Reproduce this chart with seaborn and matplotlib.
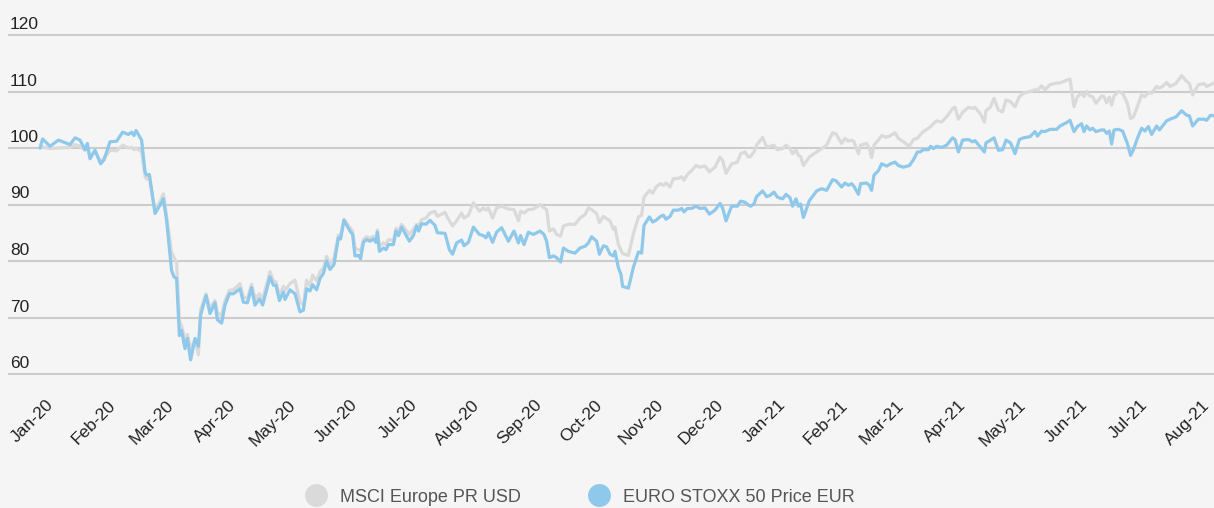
import numpy as np
import pandas as pd
import matplotlib
matplotlib.use("Agg")
import matplotlib.pyplot as plt
import matplotlib.transforms as mtransforms
from matplotlib.lines import Line2D
import seaborn as sns

# ---------------- data ----------------
start_date = "2020-01-01"

days = [
    0, 1.3, 5.0, 9.2, 15.0, 17.5, 20.0, 22.5, 23.7, 25.0, 27.5, 30.3, 32.0, 35.0, 38.3,
    41.3, 44.2, 45.8, 47.0, 48.0, 50.8, 52.5, 53.3, 54.7, 57.5, 60.0, 61.7, 63.3, 65.8,
    67.0, 68.3, 69.7, 70.8, 72.5, 73.7, 75.3, 77.5, 79.2, 80.3, 83.0, 85.0, 87.5, 88.7,
    90.8, 92.5, 94.7, 96.7, 100.0, 101.7, 103.7, 105.8, 107.5, 109.7, 111.3, 115.0,
    116.7, 118.0, 119.7, 121.7, 122.5, 125.0, 127.5, 130.0, 131.7, 133.3, 135.0, 136.3,
    138.3, 140.0, 141.7,
    143.3, 145.0, 147.0, 149.2, 150.3, 152.0, 155.0, 156.3, 157.5, 159.2, 160.3, 161.7,
    163.3, 165.0, 166.7, 168.0, 168.7, 169.7, 171.7, 173.0, 174.2, 176.7, 178.0, 179.3,
    180.8, 184.7, 186.7, 188.3, 189.3, 190.8, 193.0, 195.0, 197.5, 198.7, 202.5, 204.7,
    206.3, 208.3, 210.8, 212.0, 214.2, 216.7, 219.7, 221.7, 223.0, 224.2, 226.3, 228.3,
    230.8, 234.2, 237.0, 239.2, 240.3, 242.0, 244.2, 246.7, 250.0, 252.0, 253.3, 254.7,
    256.7, 258.3, 260.3, 261.7, 264.2, 267.5, 270.0, 272.5, 274.2, 275.8, 278.3, 279.7,
    281.7, 283.3, 285.0, 286.7, 287.5, 289.2, 290.5,
    291.3, 294.2, 296.7, 299.2, 300.8, 302.0, 304.7, 306.3, 308.0, 310.3, 311.7, 313.0,
    315.0, 316.7, 319.2, 320.8, 322.0, 323.7, 325.8, 328.0, 330.0, 332.5, 334.7, 337.5,
    340.0, 341.3, 343.0, 345.8, 348.7, 350.3, 352.5, 354.2, 355.3, 357.0, 358.3, 361.3,
    363.3, 365.0, 367.0, 368.7, 371.3, 373.0, 375.0, 376.3, 378.0, 379.2, 380.3, 381.7,
    384.7, 385.8, 388.3, 390.8, 393.3, 396.3, 398.0, 400.8, 402.5, 404.2, 405.8, 407.0,
    409.2, 410.3, 413.3, 414.7, 415.8, 417.0, 419.2, 420.8, 423.3, 425.3, 427.5, 429.2,
    431.7, 434.7, 436.7, 438.7,
    440.0, 441.7, 444.2, 445.3, 446.7, 448.3, 450.8, 453.3, 456.3, 457.5, 459.2, 461.3,
    464.2, 466.3, 467.5, 470.3, 472.2, 473.0, 475.3, 477.0, 479.2, 481.3, 483.0, 485.3,
    487.5, 489.7, 491.7, 495.0, 497.5, 498.7, 500.8, 502.5, 505.0, 508.3, 510.0, 513.3,
    515.0, 517.0, 518.7, 520.8, 522.0, 523.3, 525.0, 526.3, 528.0, 530.8, 532.0, 533.3,
    534.7, 535.8, 537.0, 539.2, 541.3, 543.7, 545.3, 546.7, 548.7, 550.8, 552.5, 554.2,
    555.8, 558.3, 559.7, 561.3, 563.3, 565.0, 568.0, 570.8, 573.3, 574.7, 576.3, 579.2,
    582.0, 583.3, 585.3, 587.0,
]

euro_stoxx_50 = [
    100.0, 101.6, 100.3, 101.4, 100.6, 101.8, 101.4, 99.7, 100.8, 98.1, 99.6, 97.2, 97.9, 101.1, 101.2,
    102.8, 102.4, 102.8, 102.2, 103.1, 101.4, 95.8, 95.2, 95.3, 88.4, 89.9, 91.0, 87.2, 78.3,
    77.2, 76.9, 66.8, 67.7, 64.5, 66.3, 62.5, 66.3, 64.9, 70.4, 73.9, 70.7, 72.6, 69.6,
    69.0, 72.2, 74.2, 74.2, 75.1, 72.7, 72.6, 75.3, 72.2, 73.3, 72.2, 77.2,
    75.7, 75.7, 73.0, 74.5, 73.2, 74.9, 74.2, 71.0, 71.3, 75.1, 74.7, 75.8,
    74.9, 76.9, 77.8,
    80.0, 78.5, 79.4, 84.1, 83.9, 87.2, 85.3, 84.7, 80.9, 81.0, 80.4, 83.3,
    83.8, 83.5, 83.9, 83.3, 85.1, 81.7, 82.3, 82.0, 82.9, 82.9, 85.3, 84.5,
    86.0, 83.5, 84.5, 86.2, 85.3, 86.6, 86.5, 87.2, 86.3, 85.0, 84.9, 82.0,
    81.2, 83.2, 83.7, 82.7, 83.3, 86.0, 84.7, 84.5, 84.1, 85.0, 83.3, 85.1,
    85.9, 83.5, 85.3, 83.2, 84.5, 82.9, 85.1, 84.7, 85.3, 84.7, 83.5, 80.6,
    80.9, 80.6, 79.8, 82.3, 81.7, 81.4, 82.3, 82.6, 83.2, 84.3, 83.5, 81.2,
    82.7, 82.5, 81.2, 80.9, 81.7, 78.8, 77.6,
    75.5, 75.2, 78.9, 81.6, 81.4, 86.3, 87.8, 86.9, 87.2, 87.9, 88.1, 87.4,
    87.9, 89.0, 89.0, 89.3, 88.7, 89.3, 89.3, 89.7, 89.3, 89.4, 88.3, 89.0,
    90.2, 89.4, 87.1, 89.7, 89.7, 90.6, 90.4, 89.9, 89.7, 90.1, 91.4, 92.4,
    91.4, 91.6, 92.2, 91.3, 91.0, 91.8, 91.2, 89.7, 91.0, 89.7, 90.1, 87.7,
    90.7, 91.2, 92.4, 92.8, 92.5, 94.4, 94.2, 93.1, 93.8, 93.4, 93.7, 93.2,
    91.8, 93.7, 93.8, 93.4, 92.5, 95.2, 96.0, 97.2, 96.8, 97.2, 97.5, 96.9,
    96.6, 96.9, 97.9, 99.3,
    99.3, 99.7, 99.7, 100.3, 99.9, 100.3, 100.1, 100.5, 101.8, 101.5, 99.3, 101.4,
    101.5, 101.1, 101.3, 100.1, 99.3, 100.9, 101.4, 101.8, 99.6, 99.7, 101.4, 100.9,
    99.0, 101.5, 101.8, 102.0, 102.9, 102.1, 103.0, 102.9, 103.3, 103.3, 103.9, 104.5,
    104.9, 102.9, 103.8, 104.3, 102.9, 103.9, 103.2, 103.5, 102.9, 103.2, 103.2, 102.6,
    103.0, 100.7, 103.2, 103.3, 103.0, 100.8, 98.7, 99.7, 101.7, 103.5, 103.0, 103.8,
    102.4, 103.9, 103.2, 103.9, 104.8, 105.1, 105.5, 106.6, 105.8, 105.7, 103.9, 105.1,
    105.1, 104.9, 105.8, 105.7,
]

msci_europe_usd = [
    100.0, 100.2, 99.9, 100.0, 100.1, 100.6, 100.3, 99.6, 100.0, 98.4, 99.5, 97.5, 98.2, 99.6, 99.5,
    100.5, 100.0, 100.1, 99.7, 100.0, 99.3, 95.0, 94.5, 94.6, 89.0, 90.5, 91.9, 88.0, 81.5,
    80.6, 79.8, 69.5, 68.5, 66.0, 67.0, 64.5, 66.0, 63.4, 71.3, 74.2, 71.6, 73.0, 70.8,
    70.4, 73.0, 74.8, 74.9, 76.0, 73.6, 73.4, 75.9, 73.3, 74.2, 73.3, 78.1,
    76.5, 76.3, 73.9, 75.5, 74.8, 76.0, 76.6, 72.7, 72.2, 76.6, 75.6, 77.5,
    76.5, 78.1, 78.8,
    80.8, 79.5, 80.5, 84.6, 84.5, 87.4, 85.9, 85.3, 82.3, 82.0, 81.7, 83.8,
    84.3, 84.0, 84.4, 83.9, 85.5, 82.6, 83.2, 82.9, 83.8, 83.6, 85.8, 85.3,
    86.5, 84.7, 85.6, 86.5, 86.3, 87.3, 87.6, 88.5, 88.8, 87.9, 88.6, 87.1,
    86.2, 87.1, 88.5, 87.6, 88.1, 90.3, 88.8, 89.4, 89.0, 89.4, 87.6, 89.4,
    89.7, 89.2, 89.1, 87.1, 88.8, 88.5, 89.1, 89.2, 90.0, 89.4, 89.1, 85.3,
    85.7, 84.7, 84.4, 86.2, 86.5, 86.5, 87.6, 88.2, 89.4, 89.1, 88.4, 86.8,
    87.9, 87.5, 87.1, 85.6, 86.0, 82.9, 81.9,
    81.3, 81.0, 84.8, 87.8, 88.1, 91.3, 92.5, 92.0, 93.1, 93.7, 93.4, 93.8,
    93.1, 94.6, 94.6, 94.9, 94.3, 95.3, 96.0, 96.9, 96.6, 96.8, 95.8, 96.6,
    98.4, 97.8, 95.5, 97.2, 97.5, 99.0, 99.3, 98.4, 98.5, 99.3, 100.5, 101.9,
    100.2, 100.3, 100.5, 99.7, 99.9, 100.5, 99.9, 99.0, 99.6, 98.7, 98.5, 96.9,
    98.4, 98.7, 99.3, 99.9, 100.5, 102.7, 102.5, 100.8, 101.7, 101.2, 101.4, 101.1,
    99.0, 100.5, 100.8, 99.9, 98.3, 100.5, 101.4, 102.2, 101.9, 102.2, 102.7, 101.7,
    101.1, 100.3, 101.5, 101.7,
    102.3, 102.9, 103.5, 103.8, 104.3, 104.8, 104.6, 105.5, 107.0, 107.2, 105.1, 106.3,
    107.2, 107.0, 107.2, 106.0, 104.6, 106.6, 107.3, 108.8, 106.7, 106.4, 108.5, 108.2,
    107.3, 109.1, 109.7, 110.0, 110.3, 110.2, 111.0, 110.3, 111.2, 111.5, 111.5, 112.0,
    112.2, 107.3, 109.1, 109.7, 109.1, 110.0, 109.2, 109.1, 107.9, 109.2, 109.1, 108.0,
    109.0, 107.6, 109.2, 110.0, 109.7, 107.9, 105.2, 105.5, 107.3, 109.4, 109.1, 109.8,
    109.7, 110.9, 110.6, 110.9, 111.6, 110.9, 111.4, 112.8, 111.8, 111.4, 109.4, 111.2,
    111.4, 110.9, 111.2, 111.5,
]

series_names = ["MSCI Europe PR USD", "EURO STOXX 50 Price EUR"]
month_labels = [
    "Jan-20", "Feb-20", "Mar-20", "Apr-20", "May-20", "Jun-20", "Jul-20", "Aug-20",
    "Sep-20", "Oct-20", "Nov-20", "Dec-20", "Jan-21", "Feb-21", "Mar-21", "Apr-21",
    "May-21", "Jun-21", "Jul-21", "Aug-21",
]
y_ticks = [60, 70, 80, 90, 100, 110, 120]

# ---------------- styling ----------------
BG = "#f5f5f5"
GRAY = "#dadada"
BLUE = "#8ec8ea"
GRID = "#cccccc"
TEXT = "#222222"

dates = pd.Timestamp(start_date) + pd.to_timedelta(days, unit="D")
df = pd.DataFrame({"date": dates, "msci": msci_europe_usd, "euro": euro_stoxx_50})

sns.set_theme(style="white")
plt.rcParams["font.family"] = ["Liberation Sans", "DejaVu Sans"]

W, H = 1214, 508
fig = plt.figure(figsize=(W / 100, H / 100), dpi=100, facecolor=BG)
ylo, yhi = 59.8, 120.2
ppu = (374 - 35) / 60.0
top_px = 35 - (yhi - 120) * ppu
bot_px = 374 + (60 - ylo) * ppu
ax = fig.add_axes([8 / W, 1 - bot_px / H, (W - 8) / W, (bot_px - top_px) / H])
ax.set_facecolor(BG)

sns.lineplot(data=df, x="date", y="msci", ax=ax, color=GRAY, linewidth=2.3,
             estimator=None, legend=False)
sns.lineplot(data=df, x="date", y="euro", ax=ax, color=BLUE, linewidth=2.3,
             estimator=None, legend=False)

start = pd.Timestamp(start_date)
ax.set_xlim(start - pd.Timedelta(days=16), start + pd.Timedelta(days=587))
ax.set_ylim(ylo, yhi)

for s in ax.spines.values():
    s.set_visible(False)

ax.set_yticks(y_ticks)
ax.set_yticklabels([])
ax.grid(axis="y", color=GRID, linewidth=1.5)
ax.grid(axis="x", visible=False)
ax.set_axisbelow(True)
ax.set_xlabel("")
ax.set_ylabel("")

ax.tick_params(axis="y", length=0, pad=0)
ytrans = ax.get_yaxis_transform() + mtransforms.ScaledTranslation(2 / 100, 6 / 100, fig.dpi_scale_trans)
for v in y_ticks:
    ax.text(0, v, str(v), transform=ytrans, ha="left", va="baseline",
            fontsize=12.5, color=TEXT)

month_ticks = pd.date_range(start_date, periods=len(month_labels), freq="MS")
ax.set_xticks(month_ticks)
ax.set_xticklabels(month_labels, rotation=45, ha="right", va="top",
                   rotation_mode="anchor", fontsize=12.5, color=TEXT)
ax.tick_params(axis="x", length=0, pad=16)
xoff = mtransforms.ScaledTranslation(6 / 100, 0, fig.dpi_scale_trans)
for lbl in ax.get_xticklabels():
    lbl.set_transform(lbl.get_transform() + xoff)

handles = [
    Line2D([], [], linestyle="none", marker="o", markersize=16.5,
           markerfacecolor=GRAY, markeredgewidth=0),
    Line2D([], [], linestyle="none", marker="o", markersize=16.5,
           markerfacecolor=BLUE, markeredgewidth=0),
]
fig.legend(handles, series_names, loc="center", bbox_to_anchor=(580 / W, 1 - 497 / H),
           ncol=2, frameon=False, fontsize=13, handlelength=1.2, handletextpad=0.75,
           columnspacing=3.7, labelcolor="#555555")

fig.savefig("out.png", dpi=100, facecolor=BG)
